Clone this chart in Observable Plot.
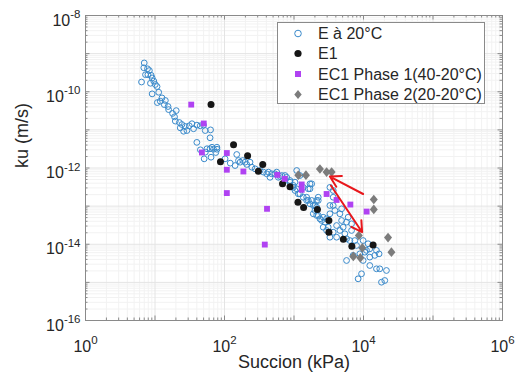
<!DOCTYPE html>
<html>
<head>
<meta charset="utf-8">
<script src="https://cdn.jsdelivr.net/npm/d3@7"></script>
<script src="https://cdn.jsdelivr.net/npm/@observablehq/plot@0.6"></script>
<style>
  html, body { margin: 0; padding: 0; background: #fff; }
  #wrap { position: relative; width: 524px; height: 381px; font-family: "Liberation Sans", Arial, Helvetica, sans-serif; }
  #legend { position: absolute; left: 277px; top: 22px; }
</style>
</head>
<body>
<div id="wrap"></div>
<script>
// ---------- data (Succion in kPa, ku in m/s) ----------
const seriesNames = ["E à 20°C", "E1", "EC1 Phase 1(40-20°C)", "EC1 Phase 2(20-20°C)"];

const E20 = [
  [7.0,5.7e-10],[6.9,4.25e-10],[7.8,4.0e-10],[8.3,3.6e-10],[7.3,2.8e-10],[7.9,2.8e-10],[8.8,2.7e-10],
  [6.4,1.8e-10],[9.1,2.3e-10],[9.6,1.9e-10],[8.6,1.67e-10],[10.1,1.55e-10],[9.1,8.8e-11],[10.7,1.37e-10],
  [11.3,9.7e-11],[12.6,6.9e-11],[11.9,5.65e-11],[10.8,5.2e-11],[14.1,5.9e-11],[13.6,4.6e-11],[15.4,4.1e-11],
  [15.7,3.4e-11],[20.2,3.2e-11],[17.9,2.7e-11],[19.1,2.2e-11],[19.6,1.7e-11],[22.4,1.56e-11],[24.4,1.38e-11],
  [23.1,1.13e-11],[27.2,1.23e-11],[28.8,9.6e-12],[25.8,9.2e-12],[31.1,1.28e-11],[34.0,1.45e-11],[35.9,1.07e-11],
  [40.1,1.33e-11],[44.8,1.28e-11],[49.9,1.33e-11],[52.8,9.6e-12],[63,1.0e-11],[62,6.2e-12],[40,4.7e-12],
  [45,3.0e-12],[53,2.6e-12],[62,3.2e-12],[69.5,3.1e-12],[78,3.1e-12],[75,2.55e-12],[51,1.74e-12],[64,1.92e-12],
  [159,1.57e-12],[142,1.16e-12],[198,1.42e-12],[56,3.2e-12],[66,3.5e-12],[77.7,3.5e-12],[102,1.74e-12],
  [121,1.34e-12],[150,2.26e-12],[168,1.42e-12],[183,1.57e-12],[209,1.24e-12],[233,1.42e-12],[247,1.05e-12],
  [276,9.5e-13],[325,8.6e-13],[363,7.8e-13],[405,7.05e-13],[428,7.8e-13],[478,7.05e-13],[533,7.05e-13],
  [452,5.7e-13],[595,5.7e-13],[666,6.35e-13],[785,5.7e-13],[743,4.7e-13],[876,4.25e-13],[977,3.5e-13],
  [1033,2.57e-13],[1094,2.85e-13],[1219,2.1e-13],[1360,1.71e-13],[1521,1.71e-13],[1604,1.41e-13],[1698,1.15e-13],
  [1892,1.04e-13],[2001,7.7e-14],[2233,5.7e-14],[2361,4.66e-14],[2633,5.1e-14],[2945,4.66e-14],[2785,3.8e-14],
  [3105,2.8e-14],[1094,8.6e-13],[1219,6.35e-13],[1795,3.85e-13],[1698,2.85e-13],[2233,1.41e-13],[2117,9.4e-14],
  [564,7.8e-13],[630,6.0e-13],[1033,4.25e-13],[977,3.1e-13],[1153,2.1e-13],[1360,3.1e-13],[1698,3.85e-13],
  [1604,2.85e-13],[1521,1.41e-13],[1795,1.41e-13],[2117,1.41e-13],[2001,1.04e-13],[1892,6.3e-14],[2117,5.7e-14],
  [2497,4.2e-14],[2633,2.8e-14],[2945,2.3e-14],[3286,1.53e-14],[3286,6.3e-14],[3666,1.04e-13],[3875,7.7e-14],
  [4572,6.3e-14],[4840,4.2e-14],[4100,3.1e-14],[3666,2.07e-14],[4100,1.53e-14],[4572,2.3e-14],[5097,2.8e-14],
  [5703,3.8e-14],[6013,5.1e-14],[6731,3.44e-14],[6731,2.3e-14],[5392,1.88e-14],[5703,1.39e-14],[6362,1.25e-14],
  [7502,1.25e-14],[7937,9.3e-15],[9880,1.25e-14],[11650,1.03e-14],[11050,6.9e-15],[12320,7.6e-15],[15370,6.9e-15],
  [14530,5.1e-15],[12320,4.6e-15],[10450,6.2e-15],[8853,5.6e-15],[7096,5.1e-15],[5703,3.75e-15],[9880,3.75e-15],
  [12320,2.77e-15],[15370,2.27e-15],[17140,2.27e-15],[21390,2.05e-15],[9370,1.68e-15],[8370,1.24e-15],
  [20240,1.12e-15],[18140,1.01e-15],[3286,3.1e-13],[3666,2.57e-13],[3666,1.71e-13],[3286,1.04e-13],[4840,8.5e-14],
  [16750,5.6e-15],[2233,1.71e-13],[743,6.35e-13],[876,4.7e-13]
];

const E1 = [
  [64,4.6e-11],[135,4.1e-12],[87.5,1.46e-12],[215,2.09e-12],[355,1.24e-12],[307,8.2e-13],[684,3.85e-13],
  [876,3.2e-13],[1140,1.27e-13],[1375,9.2e-14],[2173,8.2e-14],[3177,4.2e-14],[3177,2.07e-14],[5130,1.35e-14],
  [6798,8.9e-15],[13750,9.5e-15]
];

const EC1Phase1 = [
  [33.2,4.6e-11],[50.3,1.47e-11],[47.3,2.55e-12],[108,2.47e-12],[108,9.0e-13],[187,8.1e-13],[108,2.2e-13],
  [409,8.5e-14],[380,9.8e-15],[576,6.6e-13],[735,5.2e-13],[1290,3.7e-13],[1290,2.68e-13],[2945,2.08e-13],
  [4100,1.45e-13],[6470,1.1e-13],[11090,7.2e-14]
];

const EC1Phase2 = [
  [1153,6.5e-13],[1485,6.5e-13],[2361,9.4e-13],[2945,7.8e-13],[3475,7.8e-13],[14060,1.49e-13],[14060,8.2e-14],
  [8570,1.7e-14],[22550,1.5e-14],[9616,8.0e-15],[25230,6.2e-15],[7140,4.8e-15],[9000,4.4e-15]
];

// arrows: [x1, y1, x2, y2]
const arrows = [
  [9880,2.08e-13,3286,5.98e-13],
  [3396,3.48e-13,9560,2.07e-14]
];

const xTickValues = [1, 1e2, 1e4, 1e6];
const xTickExps = ["0", "2", "4", "6"];
const yTickValues = [1e-16, 1e-14, 1e-12, 1e-10, 1e-8];
const yTickExps = ["-16", "-14", "-12", "-10", "-8"];
const xLabel = "Succion (kPa)";
const yLabel = "ku (m/s)";

// ---------- styling ----------
const W = 524, H = 381, mL = 85, mR = 22, mT = 15, mB = 61;
const pw = W - mL - mR, ph = H - mT - mB;
const colBlue = "#3a8acb", colBlack = "#161616", colPurple = "#b042f2", colGray = "#7c7c7c", colRed = "#e8171c";
const frameCol = "#8a8a8a";
const font = '"Liberation Sans", Arial, Helvetica, sans-serif';

const diamond = {
  draw(ctx, size) {
    const s = Math.sqrt(size), h = s * 0.7, w = s * 0.58;
    ctx.moveTo(0, -h); ctx.lineTo(w, 0); ctx.lineTo(0, h); ctx.lineTo(-w, 0); ctx.closePath();
  }
};

const xAll = d3.scaleLog().domain([1, 1e6]).ticks();
const yAll = d3.scaleLog().domain([1e-16, 1e-8]).ticks();
const isDecade = v => Math.abs(Math.log10(v) - Math.round(Math.log10(v))) < 1e-9;
const xMajor = xAll.filter(isDecade), xMinor = xAll.filter(v => !isDecade(v));
const yMajor = yAll.filter(isDecade), yMinor = yAll.filter(v => !isDecade(v));
const tl = 4.5, tlm = 2.5;

const chart = Plot.plot({
  width: W, height: H,
  marginLeft: mL, marginRight: mR, marginTop: mT, marginBottom: mB,
  style: { fontFamily: font, background: "#fff", color: "#262626" },
  x: { type: "log", domain: [1, 1e6] },
  y: { type: "log", domain: [1e-16, 1e-8] },
  marks: [
    Plot.ruleX(xMinor, { stroke: "#f2f2f2" }),
    Plot.ruleY(yMinor, { stroke: "#f2f2f2" }),
    Plot.ruleX(xMajor, { stroke: "#e4e4e4" }),
    Plot.ruleY(yMajor, { stroke: "#e4e4e4" }),
    // inward ticks on all four sides
    Plot.tickX(xMajor, { stroke: frameCol, insetTop: ph - tl }),
    Plot.tickX(xMajor, { stroke: frameCol, insetBottom: ph - tl }),
    Plot.tickX(xMinor, { stroke: frameCol, insetTop: ph - tlm }),
    Plot.tickX(xMinor, { stroke: frameCol, insetBottom: ph - tlm }),
    Plot.tickY(yMajor, { stroke: frameCol, insetRight: pw - tl }),
    Plot.tickY(yMajor, { stroke: frameCol, insetLeft: pw - tl }),
    Plot.tickY(yMinor, { stroke: frameCol, insetRight: pw - tlm }),
    Plot.tickY(yMinor, { stroke: frameCol, insetLeft: pw - tlm }),
    Plot.frame({ stroke: frameCol }),
    // data
    Plot.dot(E20, { x: d => d[0], y: d => d[1], r: 2.9, stroke: colBlue, strokeWidth: 1, fill: "none" }),
    Plot.dot(E1, { x: d => d[0], y: d => d[1], r: 3.5, fill: colBlack, stroke: "none" }),
    Plot.dot(EC1Phase1, { x: d => d[0], y: d => d[1], symbol: "square", r: 3.3, fill: colPurple, stroke: "none" }),
    Plot.dot(EC1Phase2, { x: d => d[0], y: d => d[1], symbol: diamond, r: 3.9, fill: colGray, stroke: "none" }),
    Plot.arrow(arrows, { x1: d => d[0], y1: d => d[1], x2: d => d[2], y2: d => d[3], stroke: colRed, strokeWidth: 2, headLength: 9 }),
    // axes
    Plot.axisX(xTickValues, { anchor: "bottom", tickSize: 0, tickPadding: 20, fontSize: 16, label: null,
      tickFormat: d => "10^" + xTickExps[xTickValues.indexOf(d)] }),
    Plot.axisY(yTickValues, { anchor: "left", tickSize: 0, tickPadding: 5, dy: 5, fontSize: 16, label: null,
      tickFormat: d => "10^" + yTickExps[yTickValues.indexOf(d)] }),
    Plot.text([xLabel], { frameAnchor: "bottom", dy: 47.5, fontSize: 18, text: d => d, fill: "#262626" }),
    Plot.text([yLabel], { frameAnchor: "left", dx: -63, rotate: -90, fontSize: 18, text: d => d, fill: "#262626" })
  ]
});

// superscript exponents in tick labels
chart.querySelectorAll('g[aria-label="x-axis tick label"] text, g[aria-label="y-axis tick label"] text').forEach(t => {
  const parts = t.textContent.split("^");
  if (parts.length !== 2) return;
  t.textContent = parts[0];
  const ts = document.createElementNS("http://www.w3.org/2000/svg", "tspan");
  ts.setAttribute("dy", "-7.5");
  ts.setAttribute("font-size", "11.5");
  ts.textContent = parts[1];
  t.appendChild(ts);
});

const wrap = document.getElementById("wrap");
wrap.appendChild(chart);

// legend (inside the plot area, upper right)
const ns = "http://www.w3.org/2000/svg";
const lg = document.createElementNS(ns, "svg");
lg.setAttribute("id", "legend");
lg.setAttribute("width", 209); lg.setAttribute("height", 83);
const box = document.createElementNS(ns, "rect");
box.setAttribute("x", 0.5); box.setAttribute("y", 0.5); box.setAttribute("width", 207); box.setAttribute("height", 81);
box.setAttribute("fill", "#fff"); box.setAttribute("stroke", "#8a8a8a");
lg.appendChild(box);
const rowsY = [11.5, 31.5, 52, 72.5];
const mx = 21, tx = 41;
seriesNames.forEach((name, i) => {
  const y = rowsY[i];
  let m;
  if (i === 0) {
    m = document.createElementNS(ns, "circle");
    m.setAttribute("cx", mx); m.setAttribute("cy", y); m.setAttribute("r", 3.3);
    m.setAttribute("fill", "none"); m.setAttribute("stroke", colBlue);
  } else if (i === 1) {
    m = document.createElementNS(ns, "circle");
    m.setAttribute("cx", mx); m.setAttribute("cy", y); m.setAttribute("r", 3.6);
    m.setAttribute("fill", colBlack);
  } else if (i === 2) {
    m = document.createElementNS(ns, "rect");
    m.setAttribute("x", mx - 3); m.setAttribute("y", y - 3); m.setAttribute("width", 6); m.setAttribute("height", 6);
    m.setAttribute("fill", colPurple);
  } else {
    m = document.createElementNS(ns, "path");
    m.setAttribute("d", `M${mx},${y - 4.5}L${mx + 3.7},${y}L${mx},${y + 4.5}L${mx - 3.7},${y}Z`);
    m.setAttribute("fill", colGray);
  }
  lg.appendChild(m);
  const t = document.createElementNS(ns, "text");
  t.setAttribute("x", tx); t.setAttribute("y", y + 5.7);
  t.setAttribute("font-size", 16); t.setAttribute("font-family", font); t.setAttribute("fill", "#262626");
  t.textContent = name;
  lg.appendChild(t);
});
wrap.appendChild(lg);
</script>
</body>
</html>
